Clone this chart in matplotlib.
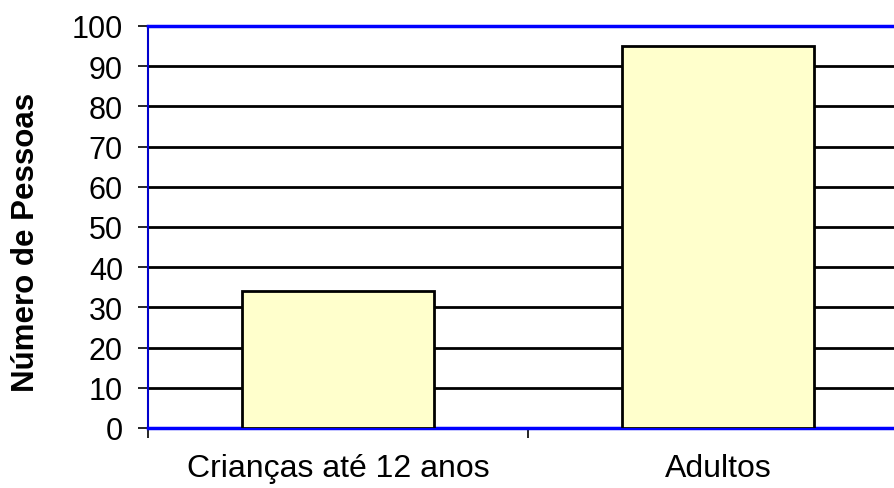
import matplotlib.pyplot as plt

categories = ["Crianças até 12 anos", "Adultos"]
values = [34, 95]
y_ticks = list(range(0, 101, 10))

plt.rcParams["font.family"] = ["Liberation Sans", "DejaVu Sans"]

fig = plt.figure(figsize=(8.94, 4.89), dpi=100)
# plot area runs off the right edge, as in the original
ax = fig.add_axes([148 / 894, 1 - 429 / 489, 760 / 894, 402 / 489])

x = list(range(len(categories)))
ax.bar(x, values, width=0.505, color="#ffffcc", edgecolor="black",
       linewidth=2, zorder=3)

ax.set_xlim(-0.5, len(categories) - 0.5)
ax.set_ylim(0, 100)
ax.set_yticks(y_ticks)
ax.set_yticklabels([str(t) for t in y_ticks], fontsize=22)
ax.yaxis.grid(True, color="black", linewidth=2, zorder=1)
ax.set_axisbelow(True)

ax.set_xticks(x)
ax.set_xticklabels(categories, fontsize=23)
ax.tick_params(axis="x", length=0, pad=18)
ax.tick_params(axis="y", length=7, width=1.2, color="black", pad=11)
# category separator ticks
ax.set_xticks([-0.5, 0.5, 1.5], minor=True)
ax.tick_params(axis="x", which="minor", length=7, width=1.2, color="black")

for side in ["top", "bottom"]:
    ax.spines[side].set_color("#0000ff")
    ax.spines[side].set_linewidth(2.5)
ax.spines["left"].set_color("#0000cc")
ax.spines["left"].set_linewidth(1.5)
ax.spines["right"].set_visible(False)

ax.set_ylabel("Número de Pessoas", fontsize=22.5, fontweight="bold")
ax.yaxis.set_label_coords((41 - 148) / 760, 0.465)

fig.savefig("out.png", dpi=100)
